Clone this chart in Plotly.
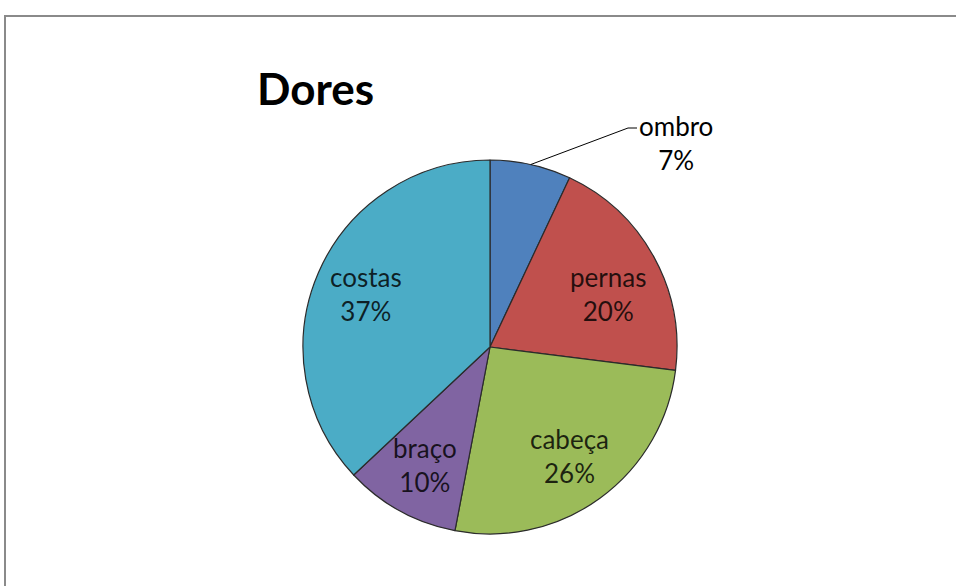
import math
import plotly.graph_objects as go

# ---- data ----
categories = ["ombro", "pernas", "cabeça", "braço", "costas"]
values = [7, 20, 26, 10, 37]
colors = ["#4F81BD", "#C0504D", "#9BBB59", "#8064A2", "#4BACC6"]
title_text = "Dores"

W, H = 956, 586
CX, CY, R = 490, 347, 187  # pie centre / radius in pixels

def px(x):
    return x / W

def py(y):
    return 1 - y / H

fig = go.Figure()
fig.add_trace(go.Pie(
    labels=categories,
    values=values,
    sort=False,
    direction="clockwise",
    rotation=0,
    marker=dict(colors=colors, line=dict(color="#2b2b2b", width=1.2)),
    textinfo="none",
    hoverinfo="skip",
    showlegend=False,
    domain=dict(x=[px(CX - R), px(CX + R)], y=[py(CY + R), py(CY - R)]),
))

total = sum(values)
annotations = []
shapes = []
cum = 0
FONT = "Lato, 'Noto Sans', sans-serif"
for name, v in zip(categories, values):
    mid = (cum + v / 2) / total * 2 * math.pi
    cum += v
    pct = f"{round(v / total * 100)}%"
    if name == "ombro":
        tipx = CX + R * math.sin(mid)
        tipy = CY - R * math.cos(mid)
        lx, ly = 628, 128
        shapes.append(dict(
            type="path", xref="paper", yref="paper",
            path=f"M {px(tipx)},{py(tipy)} L {px(lx)},{py(ly)} L {px(lx + 9)},{py(ly)}",
            line=dict(color="#000000", width=1),
        ))
        annotations.append(dict(
            x=px(676), y=py(ly + 15), xref="paper", yref="paper",
            xanchor="center", yanchor="middle", align="center",
            text=f"{name}<br>{pct}", showarrow=False,
            font=dict(family=FONT, size=26, color="#000000"),
        ))
    else:
        f = 0.72
        lx = CX + f * R * math.sin(mid)
        ly = CY - f * R * math.cos(mid)
        if name == "pernas":
            ly += 12
        annotations.append(dict(
            x=px(lx), y=py(ly), xref="paper", yref="paper",
            xanchor="center", yanchor="middle", align="center",
            text=f"{name}<br>{pct}", showarrow=False,
            font=dict(family=FONT, size=26, color="rgba(0,0,0,0.82)"),
        ))

annotations.append(dict(
    x=px(315), y=py(88), xref="paper", yref="paper",
    xanchor="center", yanchor="middle", showarrow=False,
    text=f"<b>{title_text}</b>",
    font=dict(family=FONT, size=44, color="#000000"),
))

shapes.append(dict(
    type="rect", xref="paper", yref="paper",
    x0=px(5), x1=1.2, y0=-0.2, y1=py(16),
    line=dict(color="#8a8a8a", width=2), fillcolor="rgba(0,0,0,0)", layer="below",
))

fig.update_layout(
    width=W, height=H,
    margin=dict(l=0, r=0, t=0, b=0),
    paper_bgcolor="#ffffff",
    plot_bgcolor="#ffffff",
    annotations=annotations,
    shapes=shapes,
)

fig.write_html("out.html")
